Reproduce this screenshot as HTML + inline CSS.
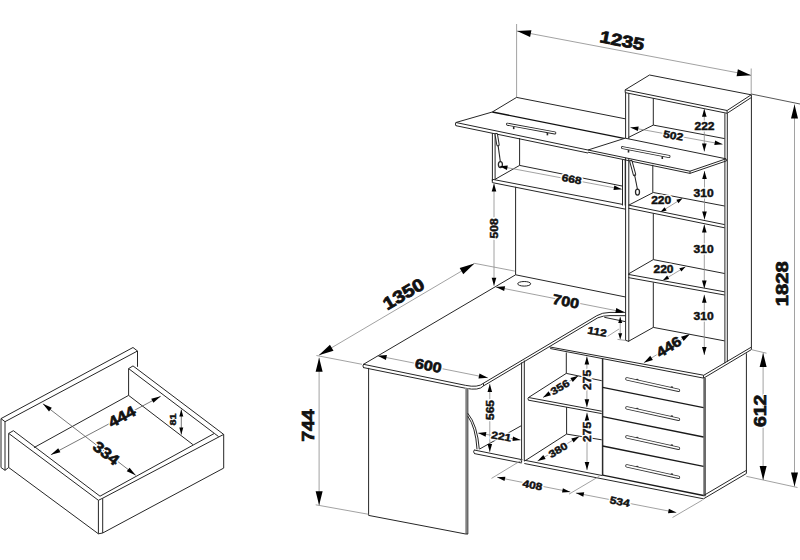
<!DOCTYPE html>
<html><head><meta charset="utf-8"><style>
html,body{margin:0;padding:0;background:#fff;}
svg{display:block;}
text{font-family:"Liberation Sans",sans-serif;font-weight:bold;fill:#111;} text.h{stroke:#fff;stroke-width:3px;stroke-linejoin:round;} text.f{stroke:#111;}
</style></head><body>
<svg width="800" height="560" viewBox="0 0 800 560">
<rect width="800" height="560" fill="#fff"/>
<polyline points="1,467.5 1,418.6 133,347.5 137.5,351 5,421.7 1,418.6" fill="none" stroke="#262626" stroke-width="1.0" stroke-linejoin="round"/>
<line x1="5" y1="421.7" x2="5" y2="470.3" stroke="#262626" stroke-width="1.0"/>
<polyline points="1,467.5 5,470.3 8.7,467.5" fill="none" stroke="#262626" stroke-width="1.0" stroke-linejoin="round"/>
<line x1="137.5" y1="351" x2="137.5" y2="366.8" stroke="#262626" stroke-width="1.0"/>
<polyline points="8.7,467.5 8.7,433.4 13.4,430.7 100,496.2" fill="none" stroke="#262626" stroke-width="1.0" stroke-linejoin="round"/>
<line x1="8.7" y1="433.4" x2="98.4" y2="500.3" stroke="#262626" stroke-width="1.0"/>
<line x1="8.7" y1="467.5" x2="98.4" y2="533.8" stroke="#262626" stroke-width="1.0"/>
<polyline points="98.4,533.8 98.4,500.3 102.7,498.2 102.7,533" fill="none" stroke="#262626" stroke-width="1.0" stroke-linejoin="round"/>
<line x1="98.4" y1="533.8" x2="102.7" y2="533" stroke="#262626" stroke-width="1.0"/>
<line x1="100" y1="496.2" x2="214.4" y2="433.4" stroke="#262626" stroke-width="1.0"/>
<line x1="102.7" y1="498.2" x2="223.7" y2="434.4" stroke="#262626" stroke-width="1.0"/>
<line x1="102.7" y1="533" x2="223.7" y2="468.1" stroke="#262626" stroke-width="1.0"/>
<line x1="223.7" y1="434.4" x2="223.7" y2="468.1" stroke="#262626" stroke-width="1.0"/>
<line x1="214.4" y1="433.4" x2="218.6" y2="436.6" stroke="#262626" stroke-width="1.0"/>
<polyline points="128.6,395.4 128.6,368.6 133,365.9 223.7,434.4" fill="none" stroke="#262626" stroke-width="1.0" stroke-linejoin="round"/>
<line x1="128.6" y1="368.6" x2="214.4" y2="433.4" stroke="#262626" stroke-width="1.0"/>
<line x1="128.6" y1="395.4" x2="192.9" y2="444.6" stroke="#262626" stroke-width="1.0"/>
<line x1="34" y1="447.6" x2="128.6" y2="395.4" stroke="#262626" stroke-width="1.0"/>
<line x1="50.9" y1="454.8" x2="160.7" y2="396.3" stroke="#555" stroke-width="0.8"/>
<polygon points="50.90,454.80 58.20,448.30 60.37,452.36" fill="#000"/>
<polygon points="160.70,396.30 153.40,402.80 151.23,398.74" fill="#000"/>
<text class="h" transform="translate(121.6,416.4) rotate(-28.048105754553063) scale(1.14,1)" font-size="15" text-anchor="middle" dominant-baseline="central">444</text>
<text class="f" transform="translate(121.6,416.4) rotate(-28.048105754553063) scale(1.14,1)" font-size="15" text-anchor="middle" dominant-baseline="central" stroke-width="0.67">444</text>
<line x1="42.9" y1="403.8" x2="135.7" y2="475.3" stroke="#555" stroke-width="0.8"/>
<polygon points="42.90,403.80 51.83,407.78 49.02,411.42" fill="#000"/>
<polygon points="135.70,475.30 126.77,471.32 129.58,467.68" fill="#000"/>
<text class="h" transform="translate(106.5,452.8) rotate(37.613321732069835) scale(1.14,1)" font-size="15" text-anchor="middle" dominant-baseline="central">334</text>
<text class="f" transform="translate(106.5,452.8) rotate(37.613321732069835) scale(1.14,1)" font-size="15" text-anchor="middle" dominant-baseline="central" stroke-width="0.67">334</text>
<line x1="181.3" y1="409.6" x2="181.3" y2="434.6" stroke="#555" stroke-width="0.8"/>
<polygon points="181.30,409.60 183.30,416.60 179.30,416.60" fill="#000"/>
<polygon points="181.30,434.60 179.30,427.60 183.30,427.60" fill="#000"/>
<text class="h" transform="translate(172.6,419.4) rotate(-90) scale(1.12,1)" font-size="9.6" text-anchor="middle" dominant-baseline="central">81</text>
<text class="f" transform="translate(172.6,419.4) rotate(-90) scale(1.12,1)" font-size="9.6" text-anchor="middle" dominant-baseline="central" stroke-width="0.43">81</text>
<line x1="516.6" y1="24" x2="516.6" y2="97.4" stroke="#8a8a8a" stroke-width="0.8"/>
<line x1="751.2" y1="68.5" x2="751.2" y2="94" stroke="#8a8a8a" stroke-width="0.8"/>
<line x1="517" y1="31" x2="751" y2="75.3" stroke="#8a8a8a" stroke-width="0.8"/>
<polygon points="517.00,31.00 531.41,30.17 530.10,37.04" fill="#000"/>
<polygon points="751.00,75.30 736.59,76.13 737.90,69.26" fill="#000"/>
<text class="h" transform="translate(622,40.5) rotate(10.720150749639345) scale(1.2,1)" font-size="16.8" text-anchor="middle" dominant-baseline="central">1235</text>
<text class="f" transform="translate(622,40.5) rotate(10.720150749639345) scale(1.2,1)" font-size="16.8" text-anchor="middle" dominant-baseline="central" stroke-width="0.76">1235</text>
<line x1="751.2" y1="94" x2="800" y2="104" stroke="#444" stroke-width="0.9"/>
<line x1="746.3" y1="476.3" x2="797.5" y2="487.5" stroke="#8a8a8a" stroke-width="0.8"/>
<line x1="794.5" y1="104.5" x2="794.5" y2="486.5" stroke="#8a8a8a" stroke-width="0.8"/>
<polygon points="794.50,104.50 798.00,118.50 791.00,118.50" fill="#000"/>
<polygon points="794.50,486.50 791.00,472.50 798.00,472.50" fill="#000"/>
<text class="h" transform="translate(782,283.8) rotate(-90) scale(1.2,1)" font-size="16.8" text-anchor="middle" dominant-baseline="central">1828</text>
<text class="f" transform="translate(782,283.8) rotate(-90) scale(1.2,1)" font-size="16.8" text-anchor="middle" dominant-baseline="central" stroke-width="0.76">1828</text>
<polygon points="625.2,89.8 649.5,75 751.2,94.8 727.1,110.5" fill="none" stroke="#262626" stroke-width="1.0" stroke-linejoin="round"/>
<line x1="625.2" y1="89.8" x2="625.2" y2="92.6" stroke="#262626" stroke-width="1.0"/>
<line x1="727.1" y1="110.5" x2="727.1" y2="113.3" stroke="#262626" stroke-width="1.0"/>
<line x1="625.2" y1="92.6" x2="727.1" y2="113.3" stroke="#262626" stroke-width="1.0"/>
<line x1="727.1" y1="113.3" x2="751.2" y2="97.6" stroke="#262626" stroke-width="1.0"/>
<line x1="625.6" y1="92.6" x2="625.6" y2="340.3" stroke="#262626" stroke-width="1.0"/>
<line x1="628.8" y1="93.3" x2="628.8" y2="341.4" stroke="#262626" stroke-width="1.0"/>
<line x1="625.6" y1="340.3" x2="628.8" y2="341.4" stroke="#262626" stroke-width="1.0"/>
<line x1="724.9" y1="113.3" x2="724.9" y2="363.2" stroke="#262626" stroke-width="1.0"/>
<line x1="727.3" y1="113.3" x2="727.3" y2="361.8" stroke="#262626" stroke-width="1.0"/>
<line x1="751.4" y1="94.8" x2="751.4" y2="347.1" stroke="#262626" stroke-width="1.0"/>
<line x1="653.3" y1="98" x2="653.3" y2="125.1" stroke="#262626" stroke-width="1.0"/>
<line x1="652.8" y1="164.8" x2="652.8" y2="192.5" stroke="#262626" stroke-width="1.0"/>
<line x1="653.3" y1="213.3" x2="653.3" y2="259.6" stroke="#262626" stroke-width="1.0"/>
<line x1="653.3" y1="282.4" x2="653.3" y2="327.4" stroke="#262626" stroke-width="1.0"/>
<line x1="653.3" y1="125.1" x2="724.6" y2="138.6" stroke="#262626" stroke-width="1.0"/>
<line x1="628.3" y1="137.5" x2="653.3" y2="125.1" stroke="#262626" stroke-width="1.0"/>
<line x1="653.3" y1="192.5" x2="724.6" y2="206" stroke="#262626" stroke-width="1.0"/>
<line x1="629" y1="205" x2="653.3" y2="192.5" stroke="#262626" stroke-width="1.0"/>
<line x1="628.3" y1="205" x2="724.6" y2="224.6" stroke="#262626" stroke-width="1.0"/>
<line x1="628.3" y1="208.2" x2="724.6" y2="227.8" stroke="#262626" stroke-width="1.0"/>
<line x1="653.3" y1="259.6" x2="724.6" y2="273.5" stroke="#262626" stroke-width="1.0"/>
<line x1="628.3" y1="274" x2="653.3" y2="259.6" stroke="#262626" stroke-width="1.0"/>
<line x1="628.3" y1="274.4" x2="724.6" y2="291.8" stroke="#262626" stroke-width="1.0"/>
<line x1="628.3" y1="277.6" x2="724.6" y2="295" stroke="#262626" stroke-width="1.0"/>
<line x1="653.3" y1="327.4" x2="724.6" y2="340.9" stroke="#262626" stroke-width="1.0"/>
<line x1="628.3" y1="341.4" x2="653.3" y2="327.4" stroke="#262626" stroke-width="1.0"/>
<line x1="492.3" y1="112" x2="516.6" y2="97.4" stroke="#262626" stroke-width="1.0"/>
<line x1="516.6" y1="97.4" x2="625.2" y2="118.8" stroke="#262626" stroke-width="1.0"/>
<line x1="492.3" y1="112" x2="625.2" y2="138.6" stroke="#111" stroke-width="1.4"/>
<polyline points="455.9,122.5 492.3,112" fill="none" stroke="#262626" stroke-width="1.0" stroke-linejoin="round"/>
<line x1="455.9" y1="122.5" x2="588" y2="150" stroke="#262626" stroke-width="1.0"/>
<line x1="455.9" y1="125.7" x2="588" y2="153" stroke="#262626" stroke-width="1.0"/>
<path d="M455.9,122.5 Q454.5,124 455.9,125.7" fill="none" stroke="#262626" stroke-width="1.0" stroke-linejoin="round" stroke-linecap="round"/>
<polygon points="588,150 625.2,138.2 726,158.8 690,171.2 588,150" fill="#fff" stroke="#262626" stroke-width="1.0" stroke-linejoin="round"/>
<line x1="588" y1="152.2" x2="690" y2="173.4" stroke="#262626" stroke-width="1.0"/>
<line x1="690" y1="173.4" x2="726.6" y2="160.8" stroke="#262626" stroke-width="1.0"/>
<line x1="690" y1="171.2" x2="690" y2="173.4" stroke="#262626" stroke-width="1.0"/>
<line x1="726" y1="158.8" x2="726.6" y2="160.8" stroke="#262626" stroke-width="1.0"/>
<line x1="492.4" y1="133" x2="492.4" y2="181" stroke="#262626" stroke-width="1.0"/>
<line x1="495.1" y1="133.5" x2="495.1" y2="180" stroke="#262626" stroke-width="1.0"/>
<line x1="622.5" y1="159.5" x2="622.5" y2="205.5" stroke="#262626" stroke-width="1.0"/>
<line x1="625.2" y1="159" x2="625.2" y2="205.5" stroke="#262626" stroke-width="1.0"/>
<line x1="519.6" y1="138" x2="519.6" y2="165.4" stroke="#262626" stroke-width="1.0"/>
<line x1="495.1" y1="179.3" x2="519.6" y2="165.4" stroke="#262626" stroke-width="1.0"/>
<line x1="519.6" y1="165.4" x2="622.5" y2="186.1" stroke="#262626" stroke-width="1.0"/>
<line x1="492.3" y1="179.3" x2="622.5" y2="204.4" stroke="#262626" stroke-width="1.0"/>
<line x1="492.3" y1="182.6" x2="625.6" y2="209.2" stroke="#262626" stroke-width="1.0"/>
<line x1="492.3" y1="179.3" x2="492.3" y2="182.6" stroke="#262626" stroke-width="1.0"/>
<path d="M507.5,124.2 L554.8,132.9" fill="none" stroke="#262626" stroke-width="3.0" stroke-linejoin="round" stroke-linecap="round"/>
<path d="M507.5,124.2 L554.8,132.9" fill="none" stroke="#fff" stroke-width="1.3" stroke-linejoin="round" stroke-linecap="round"/>
<line x1="513.7" y1="126.64038054968289" x2="513.7" y2="129.1403805496829" stroke="#262626" stroke-width="1.6"/>
<line x1="547.4" y1="132.83890063424948" x2="547.4" y2="135.33890063424948" stroke="#262626" stroke-width="1.6"/>
<path d="M622.5,147.6 L669,156.5" fill="none" stroke="#262626" stroke-width="3.0" stroke-linejoin="round" stroke-linecap="round"/>
<path d="M622.5,147.6 L669,156.5" fill="none" stroke="#fff" stroke-width="1.3" stroke-linejoin="round" stroke-linecap="round"/>
<line x1="628.5" y1="150.0483870967742" x2="628.5" y2="152.5483870967742" stroke="#262626" stroke-width="1.6"/>
<line x1="662.3" y1="156.51763440860216" x2="662.3" y2="159.01763440860216" stroke="#262626" stroke-width="1.6"/>
<path d="M496.3,134.6 L498,144.8" fill="none" stroke="#262626" stroke-width="3.4" stroke-linejoin="round" stroke-linecap="round"/>
<path d="M496.3,134.6 L498,144.8" fill="none" stroke="#fff" stroke-width="1.4" stroke-linejoin="round" stroke-linecap="round"/>
<line x1="498" y1="144.8" x2="500.4" y2="162" stroke="#262626" stroke-width="1.1"/>
<ellipse cx="500.4" cy="164.6" rx="2.0" ry="3.0" fill="none" stroke="#262626" stroke-width="1.3"/>
<path d="M631,161.6 L634.5,174.5" fill="none" stroke="#262626" stroke-width="3.4" stroke-linejoin="round" stroke-linecap="round"/>
<path d="M631,161.6 L634.5,174.5" fill="none" stroke="#fff" stroke-width="1.4" stroke-linejoin="round" stroke-linecap="round"/>
<line x1="634.5" y1="174.5" x2="637.5" y2="189.5" stroke="#262626" stroke-width="1.1"/>
<ellipse cx="637.5" cy="192.1" rx="2.0" ry="3.0" fill="none" stroke="#262626" stroke-width="1.3"/>
<line x1="515.6" y1="186.8" x2="515.6" y2="274.8" stroke="#262626" stroke-width="1.0"/>
<line x1="363.5" y1="364.3" x2="515.6" y2="274.8" stroke="#262626" stroke-width="1.0"/>
<line x1="515.6" y1="274.8" x2="625.6" y2="297" stroke="#262626" stroke-width="1.0"/>
<ellipse cx="524.2" cy="283.8" rx="6.5" ry="2.3" fill="none" stroke="#262626" stroke-width="1"/>
<path d="M363.5,364.3 L465.3,385.3 Q478,388 483.5,383.2 L596.8,315.7 Q602,312.5 610,312.4 L625.2,312.5" fill="none" stroke="#262626" stroke-width="1.0" stroke-linejoin="round" stroke-linecap="round"/>
<path d="M363.5,367.6 L465.3,388.2 Q479,391 483.5,385.9 L597.8,317.8 Q603,315.6 610,315.6 L625.2,315.7" fill="none" stroke="#262626" stroke-width="1.0" stroke-linejoin="round" stroke-linecap="round"/>
<path d="M363.5,364.3 Q362,366 363.5,367.6" fill="none" stroke="#262626" stroke-width="1.0" stroke-linejoin="round" stroke-linecap="round"/>
<line x1="483.5" y1="383.2" x2="483.5" y2="385.9" stroke="#262626" stroke-width="1.0"/>
<line x1="604.3" y1="317.3" x2="625.2" y2="321.6" stroke="#262626" stroke-width="1.0"/>
<line x1="549.4" y1="346.9" x2="703.5" y2="375.2" stroke="#262626" stroke-width="1.0"/>
<line x1="550.2" y1="348.5" x2="703.5" y2="378.1" stroke="#262626" stroke-width="1.0"/>
<line x1="703.5" y1="375.4" x2="751.4" y2="347.1" stroke="#262626" stroke-width="1.0"/>
<line x1="703.7" y1="378.1" x2="751.4" y2="349.6" stroke="#262626" stroke-width="1.0"/>
<line x1="751.4" y1="347.1" x2="751.4" y2="349.6" stroke="#262626" stroke-width="1.0"/>
<line x1="703.5" y1="375.2" x2="703.5" y2="378.1" stroke="#262626" stroke-width="1.0"/>
<line x1="368.6" y1="367.9" x2="368.6" y2="515.4" stroke="#262626" stroke-width="1.0"/>
<rect x="465" y="388.3" width="3.8" height="145.7" fill="#a8a8a8"/>
<line x1="467.2" y1="388.5" x2="467.2" y2="534" stroke="#6a6a6a" stroke-width="1.6"/>
<line x1="368.6" y1="515.4" x2="465.7" y2="534" stroke="#262626" stroke-width="1.0"/>
<line x1="465.7" y1="534" x2="468" y2="534" stroke="#262626" stroke-width="1.0"/>
<path d="M468,413.5 Q477.5,425 479.3,449" fill="none" stroke="#262626" stroke-width="1.0" stroke-linejoin="round" stroke-linecap="round"/>
<path d="M468,416.5 Q475.6,427 477,449" fill="none" stroke="#262626" stroke-width="1.0" stroke-linejoin="round" stroke-linecap="round"/>
<path d="M474.2,450 Q472.6,451.8 474.4,453.6" fill="none" stroke="#262626" stroke-width="1.0" stroke-linejoin="round" stroke-linecap="round"/>
<line x1="474.2" y1="450" x2="521.6" y2="459.6" stroke="#262626" stroke-width="1.0"/>
<line x1="474.4" y1="453.6" x2="521.6" y2="463" stroke="#262626" stroke-width="1.0"/>
<line x1="524.3" y1="460.2" x2="602.6" y2="475.6" stroke="#262626" stroke-width="1.0"/>
<line x1="524.3" y1="463.5" x2="703.5" y2="498.8" stroke="#262626" stroke-width="1.0"/>
<line x1="480" y1="448.8" x2="521.3" y2="425.7" stroke="#262626" stroke-width="1.0"/>
<line x1="521.6" y1="362.4" x2="521.6" y2="462.6" stroke="#262626" stroke-width="1.0"/>
<line x1="524.3" y1="360.5" x2="524.3" y2="461" stroke="#262626" stroke-width="1.0"/>
<line x1="566.3" y1="352.5" x2="566.3" y2="373.4" stroke="#262626" stroke-width="1.0"/>
<line x1="566.3" y1="373.4" x2="601.7" y2="380.7" stroke="#262626" stroke-width="1.0"/>
<line x1="528.5" y1="397.5" x2="566.3" y2="373.4" stroke="#262626" stroke-width="1.0"/>
<line x1="528.5" y1="397.5" x2="601.7" y2="411.2" stroke="#262626" stroke-width="1.0"/>
<line x1="528.5" y1="400.2" x2="601.7" y2="413.6" stroke="#262626" stroke-width="1.0"/>
<path d="M528.5,397.5 Q527,398.8 528.5,400.2" fill="none" stroke="#262626" stroke-width="1.0" stroke-linejoin="round" stroke-linecap="round"/>
<line x1="566.6" y1="407" x2="566.6" y2="434.1" stroke="#262626" stroke-width="1.0"/>
<line x1="524.4" y1="461.2" x2="566.6" y2="434.1" stroke="#262626" stroke-width="1.0"/>
<line x1="566.6" y1="434.1" x2="601.7" y2="439.8" stroke="#262626" stroke-width="1.0"/>
<line x1="602.6" y1="358.6" x2="602.6" y2="475.3" stroke="#2a2a2a" stroke-width="1.5"/>
<rect x="703.3" y="377.8" width="2.7" height="118.5" fill="#6a6a6a"/>
<line x1="746.4" y1="353.3" x2="746.4" y2="473.5" stroke="#262626" stroke-width="1.0"/>
<line x1="703.5" y1="495.6" x2="746.4" y2="470.3" stroke="#262626" stroke-width="1.0"/>
<line x1="703.5" y1="498.8" x2="746.4" y2="473.5" stroke="#262626" stroke-width="1.0"/>
<line x1="602.6" y1="387.4" x2="703.5" y2="407.7" stroke="#1a1a1a" stroke-width="1.3"/>
<line x1="602.6" y1="416.7" x2="703.5" y2="437.0" stroke="#1a1a1a" stroke-width="1.3"/>
<line x1="602.6" y1="446.0" x2="703.5" y2="466.3" stroke="#1a1a1a" stroke-width="1.3"/>
<line x1="602.6" y1="475.2" x2="703.5" y2="495.5" stroke="#1a1a1a" stroke-width="1.3"/>
<ellipse cx="637.2" cy="379.6" rx="1.3" ry="0.9" fill="#333"/>
<ellipse cx="671.8" cy="387.2" rx="1.3" ry="0.9" fill="#333"/>
<path d="M626.9,378.9 L678.5,390.29999999999995" fill="none" stroke="#333" stroke-width="3.4" stroke-linejoin="round" stroke-linecap="round"/>
<path d="M626.9,378.9 L678.5,390.29999999999995" fill="none" stroke="#fff" stroke-width="1.6" stroke-linejoin="round" stroke-linecap="round"/>
<ellipse cx="637.2" cy="408.6" rx="1.3" ry="0.9" fill="#333"/>
<ellipse cx="671.8" cy="416.2" rx="1.3" ry="0.9" fill="#333"/>
<path d="M626.9,407.9 L678.5,419.29999999999995" fill="none" stroke="#333" stroke-width="3.4" stroke-linejoin="round" stroke-linecap="round"/>
<path d="M626.9,407.9 L678.5,419.29999999999995" fill="none" stroke="#fff" stroke-width="1.6" stroke-linejoin="round" stroke-linecap="round"/>
<ellipse cx="637.2" cy="437.6" rx="1.3" ry="0.9" fill="#333"/>
<ellipse cx="671.8" cy="445.2" rx="1.3" ry="0.9" fill="#333"/>
<path d="M626.9,436.9 L678.5,448.29999999999995" fill="none" stroke="#333" stroke-width="3.4" stroke-linejoin="round" stroke-linecap="round"/>
<path d="M626.9,436.9 L678.5,448.29999999999995" fill="none" stroke="#fff" stroke-width="1.6" stroke-linejoin="round" stroke-linecap="round"/>
<ellipse cx="637.2" cy="466.6" rx="1.3" ry="0.9" fill="#333"/>
<ellipse cx="671.8" cy="474.2" rx="1.3" ry="0.9" fill="#333"/>
<path d="M626.9,465.9 L678.5,477.29999999999995" fill="none" stroke="#333" stroke-width="3.4" stroke-linejoin="round" stroke-linecap="round"/>
<path d="M626.9,465.9 L678.5,477.29999999999995" fill="none" stroke="#fff" stroke-width="1.6" stroke-linejoin="round" stroke-linecap="round"/>
<line x1="630.4" y1="127.4" x2="722.6" y2="144.3" stroke="#8a8a8a" stroke-width="0.8"/>
<polygon points="630.40,127.40 638.68,126.58 637.85,131.10" fill="#000"/>
<polygon points="722.60,144.30 714.32,145.12 715.15,140.60" fill="#000"/>
<text class="h" transform="translate(673.3,135.4) rotate(10.386853730771042) scale(1.18,1)" font-size="10.2" text-anchor="middle" dominant-baseline="central">502</text>
<text class="f" transform="translate(673.3,135.4) rotate(10.386853730771042) scale(1.18,1)" font-size="10.2" text-anchor="middle" dominant-baseline="central" stroke-width="0.46">502</text>
<line x1="704.3" y1="108.8" x2="704.3" y2="151.5" stroke="#8a8a8a" stroke-width="0.8"/>
<polygon points="704.30,108.80 706.60,116.80 702.00,116.80" fill="#000"/>
<polygon points="704.30,151.50 702.00,143.50 706.60,143.50" fill="#000"/>
<text class="h" transform="translate(704.5,126.3) rotate(0) scale(1.18,1)" font-size="10.2" text-anchor="middle" dominant-baseline="central">222</text>
<text class="f" transform="translate(704.5,126.3) rotate(0) scale(1.18,1)" font-size="10.2" text-anchor="middle" dominant-baseline="central" stroke-width="0.46">222</text>
<line x1="704.5" y1="171" x2="704.5" y2="219.5" stroke="#8a8a8a" stroke-width="0.8"/>
<polygon points="704.50,171.00 706.80,179.00 702.20,179.00" fill="#000"/>
<polygon points="704.50,219.50 702.20,211.50 706.80,211.50" fill="#000"/>
<text class="h" transform="translate(703.6,193.4) rotate(0) scale(1.18,1)" font-size="10.2" text-anchor="middle" dominant-baseline="central">310</text>
<text class="f" transform="translate(703.6,193.4) rotate(0) scale(1.18,1)" font-size="10.2" text-anchor="middle" dominant-baseline="central" stroke-width="0.46">310</text>
<line x1="704.3" y1="224.5" x2="704.3" y2="288.5" stroke="#8a8a8a" stroke-width="0.8"/>
<polygon points="704.30,224.50 706.60,232.50 702.00,232.50" fill="#000"/>
<polygon points="704.30,288.50 702.00,280.50 706.60,280.50" fill="#000"/>
<text class="h" transform="translate(703.6,249.2) rotate(0) scale(1.18,1)" font-size="10.2" text-anchor="middle" dominant-baseline="central">310</text>
<text class="f" transform="translate(703.6,249.2) rotate(0) scale(1.18,1)" font-size="10.2" text-anchor="middle" dominant-baseline="central" stroke-width="0.46">310</text>
<line x1="704.3" y1="294.8" x2="704.3" y2="355" stroke="#8a8a8a" stroke-width="0.8"/>
<polygon points="704.30,294.80 706.60,302.80 702.00,302.80" fill="#000"/>
<polygon points="704.30,355.00 702.00,347.00 706.60,347.00" fill="#000"/>
<text class="h" transform="translate(703.6,316.2) rotate(0) scale(1.18,1)" font-size="10.2" text-anchor="middle" dominant-baseline="central">310</text>
<text class="f" transform="translate(703.6,316.2) rotate(0) scale(1.18,1)" font-size="10.2" text-anchor="middle" dominant-baseline="central" stroke-width="0.46">310</text>
<line x1="660.5" y1="212" x2="682.5" y2="198.3" stroke="#8a8a8a" stroke-width="0.8"/>
<polygon points="660.50,212.00 664.54,207.13 666.65,210.53" fill="#000"/>
<polygon points="682.50,198.30 678.46,203.17 676.35,199.77" fill="#000"/>
<text class="h" transform="translate(661.2,200.3) rotate(0) scale(1.18,1)" font-size="10.2" text-anchor="middle" dominant-baseline="central">220</text>
<text class="f" transform="translate(661.2,200.3) rotate(0) scale(1.18,1)" font-size="10.2" text-anchor="middle" dominant-baseline="central" stroke-width="0.46">220</text>
<line x1="663" y1="280.3" x2="685.5" y2="266.8" stroke="#8a8a8a" stroke-width="0.8"/>
<polygon points="663.00,280.30 667.12,275.50 669.17,278.93" fill="#000"/>
<polygon points="685.50,266.80 681.38,271.60 679.33,268.17" fill="#000"/>
<text class="h" transform="translate(663.5,269.2) rotate(0) scale(1.18,1)" font-size="10.2" text-anchor="middle" dominant-baseline="central">220</text>
<text class="f" transform="translate(663.5,269.2) rotate(0) scale(1.18,1)" font-size="10.2" text-anchor="middle" dominant-baseline="central" stroke-width="0.46">220</text>
<line x1="499.5" y1="166.2" x2="621.8" y2="189.2" stroke="#8a8a8a" stroke-width="0.8"/>
<polygon points="499.50,166.20 507.79,165.42 506.94,169.94" fill="#000"/>
<polygon points="621.80,189.20 613.51,189.98 614.36,185.46" fill="#000"/>
<text class="h" transform="translate(571.7,179.1) rotate(10.577150996479597) scale(1.18,1)" font-size="10.2" text-anchor="middle" dominant-baseline="central">668</text>
<text class="f" transform="translate(571.7,179.1) rotate(10.577150996479597) scale(1.18,1)" font-size="10.2" text-anchor="middle" dominant-baseline="central" stroke-width="0.46">668</text>
<line x1="494" y1="183.6" x2="494" y2="285.8" stroke="#8a8a8a" stroke-width="0.8"/>
<polygon points="494.00,183.60 496.30,191.60 491.70,191.60" fill="#000"/>
<polygon points="494.00,285.80 491.70,277.80 496.30,277.80" fill="#000"/>
<text class="h" transform="translate(494,228.4) rotate(-90) scale(1.18,1)" font-size="10.2" text-anchor="middle" dominant-baseline="central">508</text>
<text class="f" transform="translate(494,228.4) rotate(-90) scale(1.18,1)" font-size="10.2" text-anchor="middle" dominant-baseline="central" stroke-width="0.46">508</text>
<line x1="316.4" y1="355.5" x2="362" y2="364.3" stroke="#8a8a8a" stroke-width="0.8"/>
<line x1="474.3" y1="263.3" x2="514.8" y2="271.1" stroke="#8a8a8a" stroke-width="0.8"/>
<line x1="318.8" y1="355.3" x2="474.4" y2="263.5" stroke="#8a8a8a" stroke-width="0.8"/>
<polygon points="318.80,355.30 329.94,344.66 333.50,350.69" fill="#000"/>
<polygon points="474.40,263.50 463.26,274.14 459.70,268.11" fill="#000"/>
<text class="h" transform="translate(403.5,293.9) rotate(-30.272430083466084) scale(1.15,1)" font-size="17.5" text-anchor="middle" dominant-baseline="central">1350</text>
<text class="f" transform="translate(403.5,293.9) rotate(-30.272430083466084) scale(1.15,1)" font-size="17.5" text-anchor="middle" dominant-baseline="central" stroke-width="0.79">1350</text>
<line x1="495.8" y1="286.9" x2="624.6" y2="312.3" stroke="#8a8a8a" stroke-width="0.8"/>
<polygon points="495.80,286.90 505.11,286.19 504.15,291.09" fill="#000"/>
<polygon points="624.60,312.30 615.29,313.01 616.25,308.11" fill="#000"/>
<text class="h" transform="translate(565.8,301.2) rotate(11.155865915078886) scale(1.15,1)" font-size="14" text-anchor="middle" dominant-baseline="central">700</text>
<text class="f" transform="translate(565.8,301.2) rotate(11.155865915078886) scale(1.15,1)" font-size="14" text-anchor="middle" dominant-baseline="central" stroke-width="0.63">700</text>
<line x1="620.2" y1="316.9" x2="620.2" y2="339.3" stroke="#8a8a8a" stroke-width="0.8"/>
<polygon points="620.20,316.90 622.20,322.90 618.20,322.90" fill="#000"/>
<polygon points="620.20,339.30 618.20,333.30 622.20,333.30" fill="#000"/>
<line x1="606.4" y1="337.1" x2="619" y2="329" stroke="#8a8a8a" stroke-width="0.8"/>
<line x1="617.5" y1="339.4" x2="625.5" y2="340.4" stroke="#8a8a8a" stroke-width="0.8"/>
<text class="h" transform="translate(597.2,331.6) rotate(10) scale(1.18,1)" font-size="10.2" text-anchor="middle" dominant-baseline="central">112</text>
<text class="f" transform="translate(597.2,331.6) rotate(10) scale(1.18,1)" font-size="10.2" text-anchor="middle" dominant-baseline="central" stroke-width="0.46">112</text>
<line x1="643.9" y1="362.7" x2="690" y2="334.1" stroke="#8a8a8a" stroke-width="0.8"/>
<polygon points="643.90,362.70 650.23,355.83 652.87,360.08" fill="#000"/>
<polygon points="690.00,334.10 683.67,340.97 681.03,336.72" fill="#000"/>
<text class="h" transform="translate(668.6,346.5) rotate(-31.815069673584688) scale(1.15,1)" font-size="14" text-anchor="middle" dominant-baseline="central">446</text>
<text class="f" transform="translate(668.6,346.5) rotate(-31.815069673584688) scale(1.15,1)" font-size="14" text-anchor="middle" dominant-baseline="central" stroke-width="0.63">446</text>
<line x1="377.6" y1="355.8" x2="487.8" y2="377.8" stroke="#8a8a8a" stroke-width="0.8"/>
<polygon points="377.60,355.80 386.92,355.11 385.94,360.01" fill="#000"/>
<polygon points="487.80,377.80 478.48,378.49 479.46,373.59" fill="#000"/>
<text class="h" transform="translate(428.3,365.3) rotate(11.289933947951692) scale(1.15,1)" font-size="14" text-anchor="middle" dominant-baseline="central">600</text>
<text class="f" transform="translate(428.3,365.3) rotate(11.289933947951692) scale(1.15,1)" font-size="14" text-anchor="middle" dominant-baseline="central" stroke-width="0.63">600</text>
<line x1="315.7" y1="504.8" x2="368.6" y2="514.3" stroke="#8a8a8a" stroke-width="0.8"/>
<line x1="319.1" y1="357.7" x2="319.1" y2="505.3" stroke="#8a8a8a" stroke-width="0.8"/>
<polygon points="319.10,357.70 322.60,371.70 315.60,371.70" fill="#000"/>
<polygon points="319.10,505.30 315.60,491.30 322.60,491.30" fill="#000"/>
<text class="h" transform="translate(309,425.6) rotate(-90) scale(1.18,1)" font-size="16.5" text-anchor="middle" dominant-baseline="central">744</text>
<text class="f" transform="translate(309,425.6) rotate(-90) scale(1.18,1)" font-size="16.5" text-anchor="middle" dominant-baseline="central" stroke-width="0.74">744</text>
<line x1="489.8" y1="383.9" x2="489.8" y2="451.9" stroke="#8a8a8a" stroke-width="0.8"/>
<polygon points="489.80,383.90 492.10,391.90 487.50,391.90" fill="#000"/>
<polygon points="489.80,451.90 487.50,443.90 492.10,443.90" fill="#000"/>
<text class="h" transform="translate(490.6,410) rotate(-90) scale(1.18,1)" font-size="10.2" text-anchor="middle" dominant-baseline="central">565</text>
<text class="f" transform="translate(490.6,410) rotate(-90) scale(1.18,1)" font-size="10.2" text-anchor="middle" dominant-baseline="central" stroke-width="0.46">565</text>
<line x1="478.1" y1="433.1" x2="520.6" y2="440" stroke="#8a8a8a" stroke-width="0.8"/>
<polygon points="478.10,433.10 486.37,432.11 485.63,436.65" fill="#000"/>
<polygon points="520.60,440.00 512.33,440.99 513.07,436.45" fill="#000"/>
<text class="h" transform="translate(501.3,436.3) rotate(9.221676973715795) scale(1.18,1)" font-size="10.2" text-anchor="middle" dominant-baseline="central">221</text>
<text class="f" transform="translate(501.3,436.3) rotate(9.221676973715795) scale(1.18,1)" font-size="10.2" text-anchor="middle" dominant-baseline="central" stroke-width="0.46">221</text>
<line x1="543" y1="397.5" x2="578.4" y2="375.8" stroke="#8a8a8a" stroke-width="0.8"/>
<polygon points="543.00,397.50 548.62,391.36 551.02,395.28" fill="#000"/>
<polygon points="578.40,375.80 572.78,381.94 570.38,378.02" fill="#000"/>
<text class="h" transform="translate(559.9,387.1) rotate(-31.50806189569153) scale(1.18,1)" font-size="10.2" text-anchor="middle" dominant-baseline="central">356</text>
<text class="f" transform="translate(559.9,387.1) rotate(-31.50806189569153) scale(1.18,1)" font-size="10.2" text-anchor="middle" dominant-baseline="central" stroke-width="0.46">356</text>
<line x1="586.9" y1="356.5" x2="586.9" y2="407.2" stroke="#8a8a8a" stroke-width="0.8"/>
<polygon points="586.90,356.50 589.20,364.50 584.60,364.50" fill="#000"/>
<polygon points="586.90,407.20 584.60,399.20 589.20,399.20" fill="#000"/>
<text class="h" transform="translate(586.9,379.9) rotate(-90) scale(1.18,1)" font-size="10.2" text-anchor="middle" dominant-baseline="central">275</text>
<text class="f" transform="translate(586.9,379.9) rotate(-90) scale(1.18,1)" font-size="10.2" text-anchor="middle" dominant-baseline="central" stroke-width="0.46">275</text>
<line x1="587" y1="412.8" x2="587" y2="470.1" stroke="#8a8a8a" stroke-width="0.8"/>
<polygon points="587.00,412.80 589.30,420.80 584.70,420.80" fill="#000"/>
<polygon points="587.00,470.10 584.70,462.10 589.30,462.10" fill="#000"/>
<text class="h" transform="translate(587,431.9) rotate(-90) scale(1.18,1)" font-size="10.2" text-anchor="middle" dominant-baseline="central">275</text>
<text class="f" transform="translate(587,431.9) rotate(-90) scale(1.18,1)" font-size="10.2" text-anchor="middle" dominant-baseline="central" stroke-width="0.46">275</text>
<line x1="537.6" y1="461.1" x2="579.3" y2="436.4" stroke="#8a8a8a" stroke-width="0.8"/>
<polygon points="537.60,461.10 543.31,455.04 545.66,459.00" fill="#000"/>
<polygon points="579.30,436.40 573.59,442.46 571.24,438.50" fill="#000"/>
<text class="h" transform="translate(557.9,449.9) rotate(-30.63936775744014) scale(1.18,1)" font-size="10.2" text-anchor="middle" dominant-baseline="central">380</text>
<text class="f" transform="translate(557.9,449.9) rotate(-30.63936775744014) scale(1.18,1)" font-size="10.2" text-anchor="middle" dominant-baseline="central" stroke-width="0.46">380</text>
<line x1="491.5" y1="478.4" x2="523" y2="459.3" stroke="#8a8a8a" stroke-width="0.8"/>
<line x1="569.1" y1="494.1" x2="599.5" y2="476.1" stroke="#8a8a8a" stroke-width="0.8"/>
<line x1="672.5" y1="517.5" x2="702.5" y2="500" stroke="#8a8a8a" stroke-width="0.8"/>
<line x1="497.1" y1="477.3" x2="570.3" y2="491.9" stroke="#8a8a8a" stroke-width="0.8"/>
<polygon points="497.10,477.30 505.39,476.66 504.51,481.07" fill="#000"/>
<polygon points="570.30,491.90 562.01,492.54 562.89,488.13" fill="#000"/>
<text class="h" transform="translate(532.5,485.1) rotate(11.27982434252294) scale(1.18,1)" font-size="10.2" text-anchor="middle" dominant-baseline="central">408</text>
<text class="f" transform="translate(532.5,485.1) rotate(11.27982434252294) scale(1.18,1)" font-size="10.2" text-anchor="middle" dominant-baseline="central" stroke-width="0.46">408</text>
<line x1="575.9" y1="493" x2="676.3" y2="512.5" stroke="#8a8a8a" stroke-width="0.8"/>
<polygon points="575.90,493.00 584.18,492.32 583.32,496.73" fill="#000"/>
<polygon points="676.30,512.50 668.02,513.18 668.88,508.77" fill="#000"/>
<text class="h" transform="translate(619.8,501.6) rotate(10.991320685145373) scale(1.18,1)" font-size="10.2" text-anchor="middle" dominant-baseline="central">534</text>
<text class="f" transform="translate(619.8,501.6) rotate(10.991320685145373) scale(1.18,1)" font-size="10.2" text-anchor="middle" dominant-baseline="central" stroke-width="0.46">534</text>
<line x1="752" y1="349.8" x2="766.5" y2="353.2" stroke="#8a8a8a" stroke-width="0.8"/>
<line x1="763.1" y1="353" x2="763.1" y2="480" stroke="#8a8a8a" stroke-width="0.8"/>
<polygon points="763.10,353.00 766.60,367.00 759.60,367.00" fill="#000"/>
<polygon points="763.10,480.00 759.60,466.00 766.60,466.00" fill="#000"/>
<text class="h" transform="translate(761,410.8) rotate(-90) scale(1.18,1)" font-size="16.5" text-anchor="middle" dominant-baseline="central">612</text>
<text class="f" transform="translate(761,410.8) rotate(-90) scale(1.18,1)" font-size="16.5" text-anchor="middle" dominant-baseline="central" stroke-width="0.74">612</text>
</svg></body></html>
